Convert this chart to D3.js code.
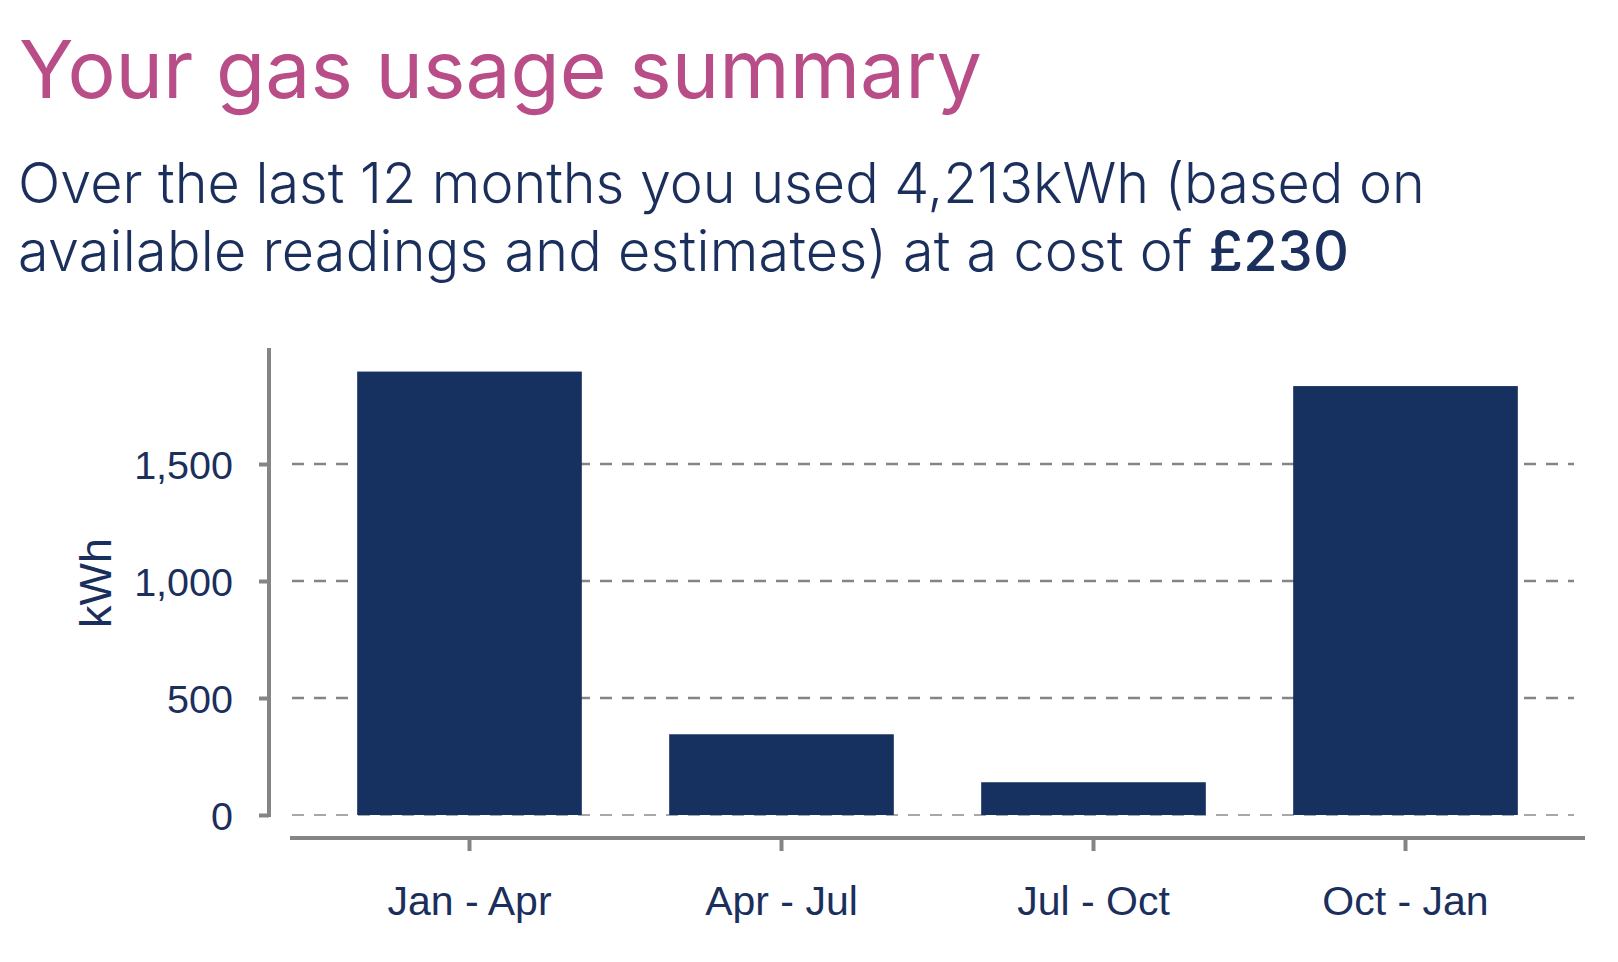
<!DOCTYPE html>
<html>
<head>
<meta charset="utf-8">
<script src="https://cdn.jsdelivr.net/npm/d3@7"></script>
<style>
  html, body { margin: 0; padding: 0; background: #ffffff; }
  svg { display: block; }
</style>
</head>
<body>
<svg id="chart" width="1618" height="962"></svg>
<script>
const categories = ["Jan - Apr", "Apr - Jul", "Jul - Oct", "Oct - Jan"];
const usageKWh = [1895, 345, 140, 1833];
const yTicks = [0, 500, 1000, 1500];
const titleText = "Your gas usage summary";
const subtitleLine1 = "Over the last 12 months you used 4,213kWh (based on";
const subtitleLine2a = "available readings and estimates) at a cost of ";
const subtitleLine2b = "£230";
const yAxisLabel = "kWh";

const svg = d3.select("#chart");
const navy = "#16305f";
const textNavy = "#1b2f5c";
const pink = "#b84d87";
const grey = "#858585";

// helper: font size so that text spans a target width
function fitSize(sel, targetW) {
  const fs = parseFloat(sel.attr("font-size"));
  const w = sel.node().getComputedTextLength();
  sel.attr("font-size", fs * targetW / w);
}
function fitSpacing(sel, targetW) {
  const w = sel.node().getComputedTextLength();
  const n = sel.text().length;
  sel.attr("letter-spacing", (targetW - w) / Math.max(1, n - 1));
}

const fontMain = "Inter, Lato, sans-serif";

// Title
const title = svg.append("text")
  .attr("x", 19).attr("y", 98)
  .attr("font-family", fontMain)
  .attr("font-weight", 400)
  .attr("font-size", 79)
  .attr("fill", pink)
  .text(titleText);
fitSize(title, 963);

// Subtitle
const sub1 = svg.append("text")
  .attr("x", 18).attr("y", 203)
  .attr("font-family", fontMain)
  .attr("font-weight", 300)
  .attr("font-size", 60)
  .attr("fill", textNavy)
  .text(subtitleLine1);
fitSize(sub1, 1407);
const subFs = parseFloat(sub1.attr("font-size"));

const sub2 = svg.append("text")
  .attr("x", 18).attr("y", 271)
  .attr("font-family", fontMain)
  .attr("font-weight", 300)
  .attr("font-size", subFs)
  .attr("fill", textNavy);
sub2.append("tspan").text(subtitleLine2a);
sub2.append("tspan").attr("font-weight", 500).text(subtitleLine2b);
fitSpacing(sub2, 1331);

// Scales
const yBottom = 815, yTop = 347;
const y = d3.scaleLinear().domain([0, 2000]).range([yBottom, yTop]);
const x = d3.scaleBand().domain(categories)
  .range([313.5, 1561.5]).paddingInner(0.28).paddingOuter(0.14);

// Gridlines
const gridX0 = 292, gridX1 = 1574;
svg.append("g").selectAll("line").data(yTicks).join("line")
  .attr("x1", gridX0).attr("x2", gridX1)
  .attr("y1", d => y(d)).attr("y2", d => y(d))
  .attr("stroke", d => d === 0 ? "#a8a8a8" : grey)
  .attr("stroke-width", d => d === 0 ? 1.8 : 2.6)
  .attr("stroke-dasharray", "12,10");

// Bars
svg.append("g").selectAll("rect").data(usageKWh).join("rect")
  .attr("x", (d, i) => x(categories[i]))
  .attr("width", x.bandwidth())
  .attr("y", d => y(d))
  .attr("height", d => y(0) - y(d))
  .attr("fill", navy);

// Y axis
const yAxisG = svg.append("g").attr("transform", "translate(269,0)")
  .call(d3.axisLeft(y).tickValues(yTicks).tickSize(10).tickPadding(26)
    .tickFormat(d3.format(",")));
yAxisG.select(".domain").remove();
yAxisG.append("line").attr("x1", 0).attr("x2", 0).attr("y1", 348).attr("y2", yBottom + 2)
  .attr("stroke", grey).attr("stroke-width", 4);
yAxisG.selectAll(".tick line").attr("stroke", grey).attr("stroke-width", 4);
yAxisG.selectAll(".tick text")
  .attr("font-family", "'Liberation Sans', Arial, sans-serif")
  .attr("font-size", 39.5).attr("fill", textNavy)
  .attr("dy", "0.36em");

// X axis
const xAxisY = 838;
const xAxisG = svg.append("g").attr("transform", `translate(0,${xAxisY})`)
  .call(d3.axisBottom(x).tickSize(13).tickPadding(35));
xAxisG.select(".domain").remove();
xAxisG.insert("line", ":first-child").attr("x1", 290).attr("x2", 1585).attr("y1", 0).attr("y2", 0)
  .attr("stroke", grey).attr("stroke-width", 4);
xAxisG.selectAll(".tick line").attr("stroke", grey).attr("stroke-width", 4);
xAxisG.selectAll(".tick text")
  .attr("font-family", "'Liberation Sans', Arial, sans-serif")
  .attr("font-size", 41).attr("fill", textNavy);

// Y axis label
svg.append("text")
  .attr("transform", "translate(111,583) rotate(-90)")
  .attr("text-anchor", "middle")
  .attr("font-family", "'Liberation Sans', Arial, sans-serif")
  .attr("font-size", 45)
  .attr("fill", textNavy)
  .text(yAxisLabel);
</script>
</body>
</html>
